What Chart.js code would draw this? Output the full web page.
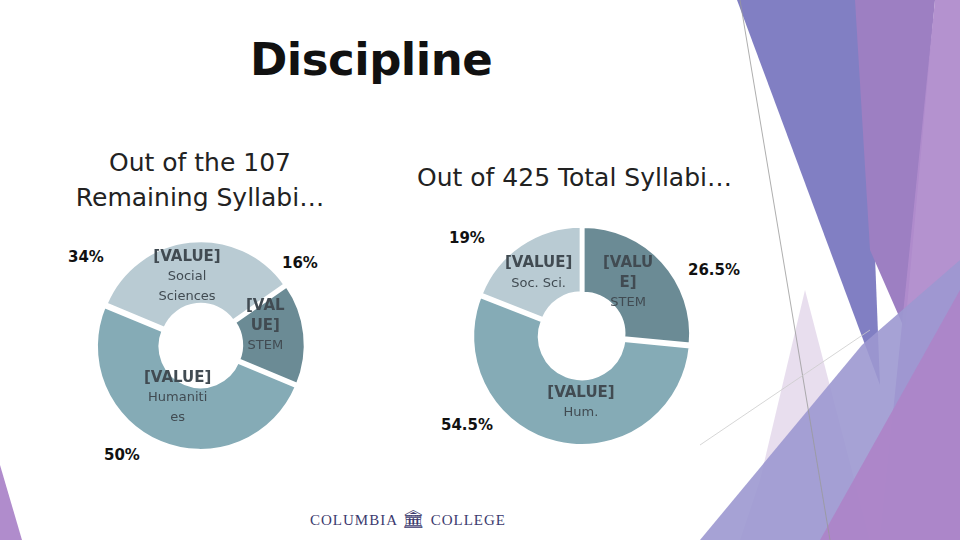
<!DOCTYPE html>
<html><head><meta charset="utf-8">
<script src="https://cdn.jsdelivr.net/npm/chart.js@4/dist/chart.umd.min.js"></script>
<style>
body{margin:0;width:960px;height:540px;position:relative;overflow:hidden;background:#fff;font-family:"DejaVu Sans",sans-serif;}
.t{position:absolute;white-space:nowrap;color:#111;}
canvas{position:absolute;}
</style></head><body>
<svg width="960" height="540" style="position:absolute;left:0;top:0">
<polygon points="737,0 865,0 880,385" fill="#7a78c0" opacity="0.95"/>
<polygon points="855,0 935,0 905,330 870,250" fill="#9d7fc2"/>
<polygon points="935,0 960,0 960,540 880,540" fill="#b08ccc" opacity="0.95"/>
<polygon points="760,480 805,290 870,540 740,540" fill="#e2d6ea" opacity="0.8"/>
<polygon points="700,540 862,345 960,260 960,540" fill="#9c98d0" opacity="0.9"/>
<polygon points="820,540 960,290 960,540" fill="#ad85c8" opacity="0.95"/>
<line x1="740" y1="0" x2="830" y2="540" stroke="#999" stroke-width="0.8"/>
<line x1="700" y1="445" x2="870" y2="330" stroke="#ccc" stroke-width="0.8"/>
<polygon points="0,465 22,540 0,540" fill="#b08ccc"/>
</svg>
<div class="t" style="left:250px;top:33px;font-size:45px;font-weight:bold;letter-spacing:-0.5px">Discipline</div>
<div class="t" style="left:60px;top:145px;width:280px;text-align:center;font-size:25px;line-height:35px;color:#222">Out of the 107<br>Remaining Syllabi…</div>
<div class="t" style="left:417px;top:163px;font-size:25px;color:#222">Out of 425 Total Syllabi…</div>
<div class="t" style="left:68px;top:248px;font-size:15px;font-weight:bold">34%</div>
<div class="t" style="left:282px;top:254px;font-size:15px;font-weight:bold">16%</div>
<div class="t" style="left:104px;top:446px;font-size:15px;font-weight:bold">50%</div>
<div class="t" style="left:449px;top:229px;font-size:15px;font-weight:bold">19%</div>
<div class="t" style="left:688px;top:261px;font-size:15px;font-weight:bold">26.5%</div>
<div class="t" style="left:441px;top:416px;font-size:15px;font-weight:bold">54.5%</div>
<div class="t" style="left:310px;top:508px;font-size:15px;font-family:'Liberation Serif',serif;color:#3c3a6e;letter-spacing:1px">COLUMBIA <span style="font-size:18px">🏛</span> COLLEGE</div>
<canvas id="c1" width="230" height="230" style="left:86px;top:230px;width:230px;height:230px"></canvas>
<canvas id="c2" width="240" height="240" style="left:462px;top:215px;width:240px;height:240px"></canvas>
<script>
const categories1=["STEM","Humanities","Social Sciences"];
const values1=[16,50,34];
const labels1=[["[VAL","UE]","STEM"],["[VALUE]","Humaniti","es"],["[VALUE]","Social","Sciences"]];
const categories2=["STEM","Hum.","Soc. Sci."];
const values2=[26.5,54.5,19];
const labels2=[["[VALU","E]","STEM"],["[VALUE]","Hum."],["[VALUE]","Soc. Sci."]];
const colors=["#6b8b95","#85abb6","#b9cbd3"];
const labelPlugin={id:"lbl",afterDatasetsDraw(chart,args,opts){
 const ctx=chart.ctx;const meta=chart.getDatasetMeta(0);
 meta.data.forEach((arc,i)=>{
  const p=arc.tooltipPosition();const lines=opts.labels[i];const o=opts.offs[i]||[0,0];
  ctx.save();ctx.textAlign="center";ctx.textBaseline="middle";ctx.fillStyle="#414b52";
  const lh=20;const y0=p.y+o[1]-(lines.length-1)*lh/2;
  lines.forEach((l,j)=>{ctx.font=(l.startsWith("[")||(j==1&&l.endsWith("]")))?"bold 15px 'DejaVu Sans'":"13px 'DejaVu Sans'";ctx.fillText(l,p.x+o[0],y0+j*lh);});
  ctx.restore();});
}};
function mk(id,vals,cats,rot,labs,offs,cut){
 new Chart(document.getElementById(id),{type:"doughnut",
  data:{labels:cats,datasets:[{data:vals,backgroundColor:colors,borderColor:"#fff",borderWidth:3,offset:6}]},
  options:{responsive:false,animation:false,rotation:rot,cutout:cut,layout:{padding:8},
   plugins:{legend:{display:false},tooltip:{enabled:false},lbl:{labels:labs,offs:offs}}},
  plugins:[labelPlugin]});
}
mk("c1",values1,categories1,55,labels1,[[-9,-11],[5,-15],[-6,5]],"38%");
mk("c2",values2,categories2,0,labels2,[[-11,0],[17,-7],[0,2]],"38%");
</script>
</body></html>
